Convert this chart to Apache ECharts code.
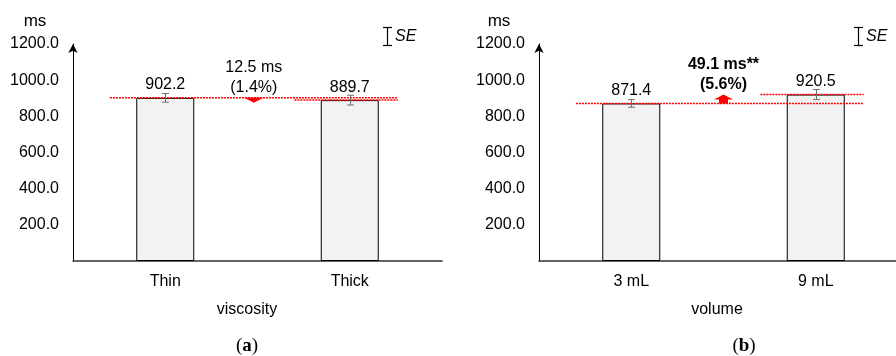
<!DOCTYPE html>
<html>
<head>
<meta charset="utf-8">
<script src="https://cdn.jsdelivr.net/npm/echarts@6/dist/echarts.min.js"></script>
<style>
  html, body { margin: 0; padding: 0; background: #fff; }
  #chart { width: 896px; height: 356px; }
</style>
</head>
<body>
<div id="chart"></div>
<script>
// Mean response time (ms) with standard error, by bolus property
const viscosityCategories = ['Thin', 'Thick'];
const viscosityMeans = [902.2, 889.7];
const viscositySE = [24, 27];
const viscosityDiffLabel = ['12.5 ms', '(1.4%)'];

const volumeCategories = ['3 mL', '9 mL'];
const volumeMeans = [871.4, 920.5];
const volumeSE = [21, 28];
const volumeDiffLabel = ['49.1 ms**', '(5.6%)'];

const yMin = 0, yMax = 1200, yStep = 200;

const FONT = '"Liberation Sans", Arial, sans-serif';
const SERIF = '"Liberation Serif", "DejaVu Serif", serif';

const panels = [
  {
    cats: viscosityCategories, means: viscosityMeans, se: viscositySE,
    diff: viscosityDiffLabel, diffBold: false, arrowFrac: 0.48,
    grid: { left: 73, width: 369, top: 44, bottom: 95, outerBoundsMode: 'none', containLabel: false },
    axisName: 'viscosity', nameX: 247, letter: 'a', letterX: 247,
    unitX: 35, seX: 387
  },
  {
    cats: volumeCategories, means: volumeMeans, se: volumeSE,
    diff: volumeDiffLabel, diffBold: true, arrowFrac: 0.5,
    grid: { left: 539, width: 369, top: 44, bottom: 95, outerBoundsMode: 'none', containLabel: false },
    axisName: 'volume', nameX: 717, letter: 'b', letterX: 744,
    unitX: 499, seX: 858
  }
];

const grids = [], xAxes = [], yAxes = [], series = [], graphics = [];

panels.forEach((p, k) => {
  grids.push(p.grid);
  xAxes.push({
    type: 'category', gridIndex: k, data: p.cats,
    axisLine: { lineStyle: { color: '#333', width: 1.5 } },
    axisTick: { show: false },
    axisLabel: { color: '#000', fontSize: 16, fontFamily: FONT, margin: 13 }
  });
  yAxes.push({
    type: 'value', gridIndex: k, min: yMin, max: yMax, interval: yStep,
    splitLine: { show: false },
    axisTick: { show: false },
    axisLine: {
      show: true, lineStyle: { color: '#000', width: 1 },
      symbol: ['none', 'arrow'], symbolSize: [7, 9]
    },
    axisLabel: {
      color: '#000', fontSize: 16, fontFamily: FONT, margin: 14,
      showMinLabel: false,
      formatter: v => v.toFixed(1)
    }
  });

  // bars
  series.push({
    type: 'bar', xAxisIndex: k, yAxisIndex: k,
    data: p.means, barWidth: 58,
    itemStyle: { color: '#f2f2f2', borderColor: '#000', borderWidth: 1 },
    label: {
      show: true, position: 'top', distance: 5,
      color: '#000', fontSize: 16, fontFamily: FONT,
      formatter: d => d.value.toFixed(1)
    },
    silent: true, z: 2
  });

  // dotted red level lines at each mean
  const lastIdx = p.cats.length - 1;
  series.push({
    type: 'custom', xAxisIndex: k, yAxisIndex: k,
    data: p.means.map((m, i) => [i, m]),
    renderItem: (params, api) => {
      const band = api.size([1, 0])[0];
      const c = api.coord([api.value(0), api.value(1)]);
      const end = api.coord([lastIdx, api.value(1)]);
      return {
        type: 'line',
        shape: { x1: c[0] - 0.30 * band, y1: c[1], x2: end[0] + 0.26 * band, y2: c[1] },
        style: { stroke: '#ff0000', lineWidth: 1.5, lineDash: [2, 1] }
      };
    },
    silent: true, z: 4
  });

  // standard error bars
  series.push({
    type: 'custom', xAxisIndex: k, yAxisIndex: k,
    data: p.means.map((m, i) => [i, m, p.se[i]]),
    renderItem: (params, api) => {
      const i = api.value(0), m = api.value(1), s = api.value(2);
      const hi = api.coord([i, m + s]);
      const lo = api.coord([i, m - s]);
      const x = Math.round(hi[0]) + 0.5, w = 3.5;
      const st = { stroke: '#6e6e6e', lineWidth: 1 };
      return {
        type: 'group', children: [
          { type: 'line', shape: { x1: x, y1: hi[1], x2: x, y2: lo[1] }, style: st },
          { type: 'line', shape: { x1: x - w, y1: hi[1], x2: x + w, y2: hi[1] }, style: st },
          { type: 'line', shape: { x1: x - w, y1: lo[1], x2: x + w, y2: lo[1] }, style: st }
        ]
      };
    },
    silent: true, z: 5
  });

  // difference arrow with its annotation
  series.push({
    type: 'custom', xAxisIndex: k, yAxisIndex: k,
    data: [[p.means[0], p.means[1]]],
    renderItem: (params, api) => {
      const band = api.size([1, 0])[0];
      const a = api.coord([0, api.value(0)]);
      const b = api.coord([0, api.value(1)]);
      const x = a[0] + p.arrowFrac * band;
      const y0 = a[1];
      const dir = b[1] < y0 ? -1 : 1;
      const len = Math.abs(b[1] - y0);
      const headH = 5, headW = 19, bodyW = 9;
      const tip = y0 + dir * Math.max(len, headH);
      const base = tip - dir * headH;
      const pts = [
        [x - bodyW / 2, y0], [x + bodyW / 2, y0], [x + bodyW / 2, base],
        [x + headW / 2, base], [x, tip], [x - headW / 2, base], [x - bodyW / 2, base]
      ];
      const top = Math.min(y0, tip);
      const font = (p.diffBold ? 'bold ' : '') + '16px ' + FONT;
      return {
        type: 'group', children: [
          { type: 'polygon', shape: { points: pts }, style: { fill: '#ff0000' } },
          { type: 'text', style: { text: p.diff[0], x: x, y: top - 30, align: 'center', verticalAlign: 'middle', font: font, fill: '#000' } },
          { type: 'text', style: { text: p.diff[1], x: x, y: top - 10, align: 'center', verticalAlign: 'middle', font: font, fill: '#000' } }
        ]
      };
    },
    silent: true, z: 6
  });

  // unit, axis name, panel letter, SE key
  graphics.push(
    { type: 'text', x: p.unitX, y: 21, style: { text: 'ms', font: '17px ' + FONT, fill: '#000', align: 'center', verticalAlign: 'middle' } },
    { type: 'text', x: p.nameX, y: 310, style: { text: p.axisName, font: '16px ' + FONT, fill: '#000', align: 'center', verticalAlign: 'middle' } },
    {
      type: 'text', x: p.letterX, y: 346,
      style: {
        text: '{n|(}{b|' + p.letter + '}{n|)}', align: 'center', verticalAlign: 'middle',
        rich: {
          n: { fontFamily: SERIF, fontSize: 19, fill: '#000', color: '#000' },
          b: { fontFamily: SERIF, fontSize: 19, fontWeight: 'bold', fill: '#000', color: '#000' }
        }
      }
    },
    { type: 'line', shape: { x1: p.seX + 0.5, y1: 27, x2: p.seX + 0.5, y2: 46 }, style: { stroke: '#000', lineWidth: 1.2 } },
    { type: 'line', shape: { x1: p.seX - 4, y1: 27.5, x2: p.seX + 5, y2: 27.5 }, style: { stroke: '#000', lineWidth: 1.2 } },
    { type: 'line', shape: { x1: p.seX - 4, y1: 45.5, x2: p.seX + 5, y2: 45.5 }, style: { stroke: '#000', lineWidth: 1.2 } },
    { type: 'text', x: p.seX + 8, y: 37, style: { text: 'SE', font: 'italic 16px ' + FONT, fill: '#000', align: 'left', verticalAlign: 'middle' } }
  );
});

const chart = echarts.init(document.getElementById('chart'), null, { renderer: 'canvas' });
chart.setOption({
  animation: false,
  backgroundColor: '#fff',
  grid: grids,
  xAxis: xAxes,
  yAxis: yAxes,
  series: series,
  graphic: graphics
});
</script>
</body>
</html>
